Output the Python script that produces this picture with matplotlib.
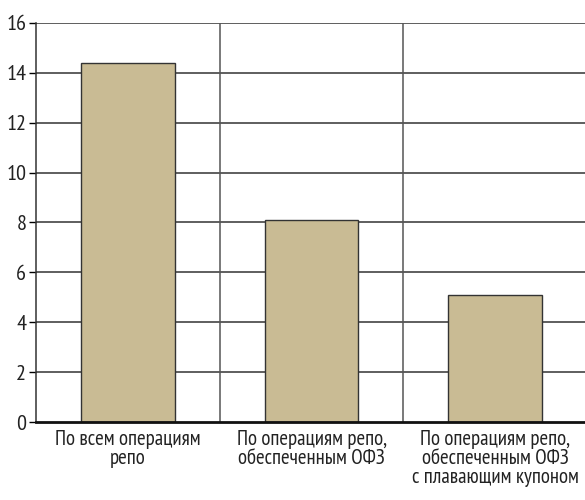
import matplotlib
matplotlib.use("Agg")
import matplotlib.pyplot as plt
from matplotlib import font_manager

# узкий гротеск с кириллицей — берём первый найденный
names = {f.name for f in font_manager.fontManager.ttflist}
prefs = ["PT Sans Narrow", "Roboto Condensed"]
family = next((n for n in prefs if n in names), "DejaVu Sans")
plt.rcParams["font.family"] = [family, "DejaVu Sans"]

categories = [
    "По всем операциям\nрепо",
    "По операциям репо,\nобеспеченным ОФЗ",
    "По операциям репо,\nобеспеченным ОФЗ\nс плавающим купоном",
]
values = [14.4, 8.1, 5.1]
yticks = [0, 2, 4, 6, 8, 10, 12, 14, 16]

bar_color = "#c9bb94"
grid_color = "#333333"

fig = plt.figure(figsize=(5.85, 5.0), dpi=100)
ax = fig.add_axes([36 / 585, 78 / 500, 1 - 36 / 585 + 0.01, 399 / 500])

x = list(range(len(categories)))
ax.bar(x, values, width=0.51, color=bar_color, edgecolor="#333333",
       linewidth=1.0, zorder=3)

ax.set_xlim(-0.5, len(categories) - 0.5 + 0.02)
ax.set_ylim(0, 16)
ax.set_yticks(yticks)
ax.set_yticklabels([str(v) for v in yticks], fontsize=16, color="#222222")
ax.set_xticks(x)
ax.set_xticklabels(categories, fontsize=15, color="#222222", linespacing=1.0)
ax.tick_params(axis="y", length=5, width=1, direction="out", pad=2)
ax.tick_params(axis="x", length=0, pad=6)

# горизонтальная сетка
for y in yticks[1:]:
    ax.axhline(y, color=grid_color, linewidth=1.1, zorder=1)
# разделители категорий
for b in [0.5, 1.5]:
    ax.axvline(b, color="#555555", linewidth=1.1, zorder=1)

for side in ["top", "right"]:
    ax.spines[side].set_visible(False)
ax.spines["left"].set_color("#333333")
ax.spines["left"].set_linewidth(1.1)
ax.spines["bottom"].set_color("#111111")
ax.spines["bottom"].set_linewidth(2.0)
ax.spines["bottom"].set_zorder(4)

fig.savefig("out.png", dpi=100)
